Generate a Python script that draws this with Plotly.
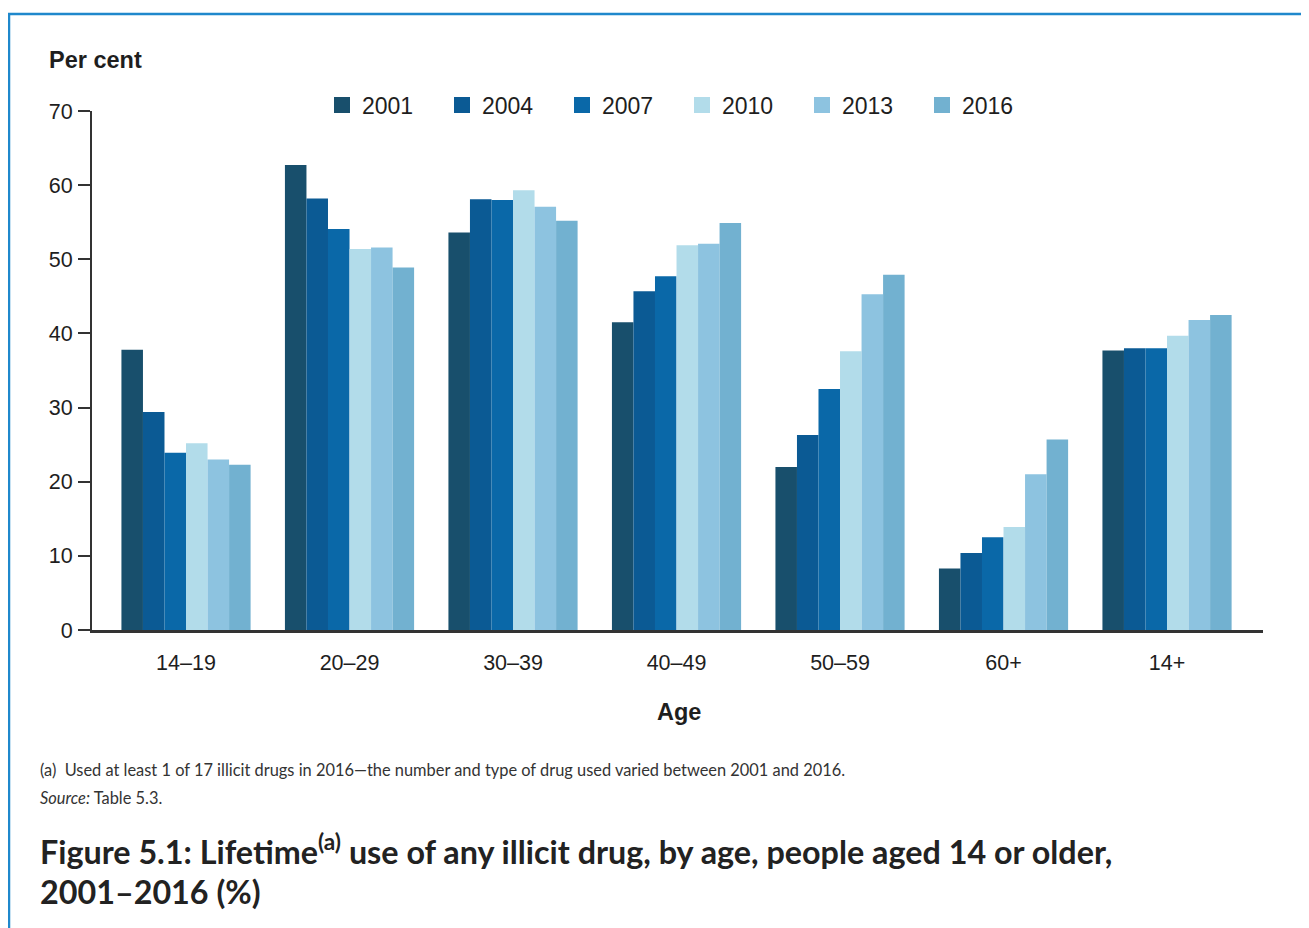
import plotly.graph_objects as go

ages = ["14–19", "20–29", "30–39", "40–49", "50–59", "60+", "14+"]
years = ["2001", "2004", "2007", "2010", "2013", "2016"]
v2001 = [37.8, 62.7, 53.6, 41.5, 22.0, 8.3, 37.7]
v2004 = [29.4, 58.2, 58.1, 45.7, 26.3, 10.4, 38.0]
v2007 = [23.9, 54.1, 58.0, 47.7, 32.5, 12.5, 38.0]
v2010 = [25.2, 51.4, 59.3, 51.9, 37.6, 13.9, 39.7]
v2013 = [23.0, 51.6, 57.1, 52.1, 45.3, 21.0, 41.8]
v2016 = [22.3, 48.9, 55.2, 54.9, 47.9, 25.7, 42.5]
series = [v2001, v2004, v2007, v2010, v2013, v2016]
colors = ["#184f6c", "#0b5a94", "#0a68a8", "#b2dcea", "#8dc3e0", "#72b1d0"]

OFF = 8  # page body margin
W, H = 1309 - OFF, 928 - OFF
L, R, T, B = 92 - OFF, 1263 - OFF, 111 - OFF, 630 - OFF  # plot area in figure pixels

def px(x):
    return (x - OFF - L) / (R - L)

def py(y):
    return (B - (y - OFF)) / (B - T)

fig = go.Figure()
for yr, vals, c in zip(years, series, colors):
    fig.add_trace(go.Bar(x=ages, y=vals, name=yr, marker=dict(color=c, line=dict(width=0)),
                         showlegend=False, legendgroup=yr))
for yr, c in zip(years, colors):
    fig.add_trace(go.Scatter(x=[None], y=[None], mode="markers", name=yr, legendgroup=yr,
                             marker=dict(symbol="square", size=16, color=c)))

axis_font = dict(family="Arial, Liberation Sans, sans-serif", size=21.5, color="#1e1e1e")
legend_font = dict(family="Arial, Liberation Sans, sans-serif", size=23, color="#1e1e1e")

fig.update_layout(
    width=W, height=H,
    margin=dict(l=L, r=W - R, t=T, b=H - B, autoexpand=False),
    paper_bgcolor="white", plot_bgcolor="white",
    barmode="group", bargap=0.21, bargroupgap=0,
    font=axis_font,
    showlegend=True,
    legend=dict(orientation="h", x=px(322), y=py(105), xanchor="left", yanchor="middle",
                font=legend_font, entrywidth=75, entrywidthmode="pixels",
                itemsizing="trace", bgcolor="rgba(0,0,0,0)", tracegroupgap=0),
    xaxis=dict(type="category", categoryorder="array", categoryarray=ages,
               range=[-0.575, 6.587], showline=True, linecolor="#333", linewidth=2.5,
               ticks="", showgrid=False, zeroline=False, tickfont=axis_font,
               ticklabelstandoff=11, fixedrange=True),
    yaxis=dict(range=[0, 70], dtick=10, tick0=0, showline=True, linecolor="#333", linewidth=2,
               ticks="outside", ticklen=12, tickwidth=2, tickcolor="#333", showgrid=False,
               zeroline=False, tickfont=axis_font, ticklabelstandoff=1, fixedrange=True),
)

bold = dict(family="Arial, Liberation Sans, sans-serif", size=23.5, color="#1e1e1e", weight="bold")
fig.add_annotation(text="<b>Per cent</b>", x=px(47), y=py(60), xref="paper", yref="paper",
                   xanchor="left", yanchor="middle", showarrow=False, font=bold)
fig.add_annotation(text="<b>Age</b>", x=px(679), y=py(712), xref="paper", yref="paper",
                   xanchor="center", yanchor="middle", showarrow=False, font=bold)

note_font = dict(family="Lato, Open Sans, sans-serif", size=16.4, color="#333")
fig.add_annotation(text="(a)  Used at least 1 of 17 illicit drugs in 2016—the number and type of drug used varied between 2001 and 2016.",
                   x=px(38), y=py(769), xref="paper", yref="paper", xanchor="left", yanchor="middle",
                   showarrow=False, font=note_font)
fig.add_annotation(text="<i>Source:</i> Table 5.3.",
                   x=px(38), y=py(797), xref="paper", yref="paper", xanchor="left", yanchor="middle",
                   showarrow=False, font=note_font)

title_font = dict(family="Lato, Open Sans, sans-serif", size=32.3, color="#222", weight="bold")
fig.add_annotation(text="<b>Figure 5.1: Lifetime<sup>(a)</sup> use of any illicit drug, by age, people aged 14 or older,</b>",
                   x=px(38), y=py(849), xref="paper", yref="paper", xanchor="left", yanchor="middle",
                   showarrow=False, font=title_font)
fig.add_annotation(text="<b>2001–2016 (%)</b>",
                   x=px(38), y=py(891), xref="paper", yref="paper", xanchor="left", yanchor="middle",
                   showarrow=False, font=title_font)

border = "#1f88cc"
fig.add_shape(type="line", xref="paper", yref="paper", x0=px(8), x1=px(1309), y0=py(14), y1=py(14),
              line=dict(color=border, width=2.5))
fig.add_shape(type="line", xref="paper", yref="paper", x0=px(9), x1=px(9), y0=py(14), y1=py(928),
              line=dict(color=border, width=2.5))

fig.write_html("out.html")
